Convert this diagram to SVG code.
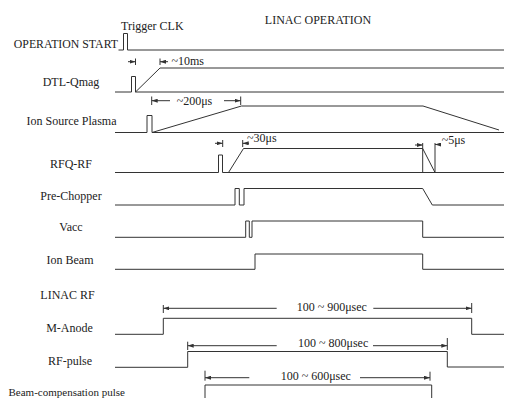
<svg xmlns="http://www.w3.org/2000/svg" width="510" height="398" viewBox="0 0 510 398">
<defs>
<style>
.sig{fill:none;stroke:#333;stroke-width:1}
.dim{fill:none;stroke:#333;stroke-width:1}
.ah{fill:none;stroke:#333;stroke-width:1;marker-end:url(#arr)}
.t{font-family:"Liberation Serif","Times New Roman",serif;font-size:12px;fill:#222}
.c{text-anchor:middle}
</style>
<marker id="arr" viewBox="0 0 6 4" refX="6" refY="2" markerWidth="6" markerHeight="4" markerUnits="userSpaceOnUse" orient="auto">
<path d="M0,0 L6,2 L0,4 Z" fill="#333"/>
</marker>
</defs>
<rect width="510" height="398" fill="#fff"/>
<text class="t c" x="318" y="24">LINAC OPERATION</text>

<g id="operation-start">
<text class="t" x="118" y="47.5" text-anchor="end" style="font-size:11.8px">OPERATION START</text>
<text class="t" x="121" y="30">Trigger CLK</text>
<path class="sig" d="M118.5,50 H123.5 V33.5 H127.5 V50 H504"/>
</g>

<g id="dtl-qmag">
<text class="t c" x="71" y="85.5">DTL-Qmag</text>
<path class="sig" d="M115,92 H131.5 V76.5 H135.5 V92 H504"/>
<path class="sig" d="M135.5,92 L160,68 H504"/>
</g>

<g id="ion-source-plasma">
<text class="t c" x="71.5" y="124.5">Ion Source Plasma</text>
<path class="sig" d="M115,132.5 H147 V115.5 H152 V132.5 H504"/>
<path class="sig" d="M152,132.5 L241.5,106 H423 L499,130"/>
</g>

<g id="rfq-rf">
<text class="t c" x="71" y="168">RFQ-RF</text>
<path class="sig" d="M115,172.5 H218.5 V155 H222.5 V172.5 H504"/>
<path class="sig" d="M228.5,172.5 L243.5,148.5 H422.7"/>
<path class="sig" d="M422.7,143 V172.5 M422.7,148.5 L435,172.5 M435,143 V172.5"/>
</g>

<g id="pre-chopper">
<text class="t c" x="71" y="199.5">Pre-Chopper</text>
<path class="sig" d="M115,205 H235 V188.5 H239.3 V205 H244 V188.5 H422.7 L432.3,205 H504"/>
</g>

<g id="vacc">
<text class="t c" x="71" y="230.7">Vacc</text>
<path class="sig" d="M115,237.3 H245.7 V221 H249.3 V237.3 H252 V221 H422.7 V237.3 H504"/>
</g>

<g id="ion-beam">
<text class="t c" x="70" y="264">Ion Beam</text>
<path class="sig" d="M115,269.3 H255 V254 H422.7 V269.3 H504"/>
</g>

<g id="linac-rf">
<text class="t c" x="67.5" y="299">LINAC RF</text>
</g>

<g id="m-anode">
<text class="t c" x="69.5" y="332">M-Anode</text>
<path class="sig" d="M115,334.3 H163.3 V318.3 H471.7 V334.3 H504"/>
</g>

<g id="rf-pulse">
<text class="t c" x="70" y="365">RF-pulse</text>
<path class="sig" d="M115,367.3 H187.7 V351.5 H447.3 V367 H504"/>
</g>

<g id="beam-compensation-pulse">
<text class="t c" x="66.7" y="396" style="font-size:11px">Beam-compensation pulse</text>
<path class="sig" d="M205,400 V385 H431.7 V400"/>
</g>

<g id="connectors">
<path class="ah" d="M128,61.7 H135.5"/>
<path class="dim" d="M135.5,58.5 V65"/>
<path class="dim" d="M160,58.5 V65"/>
<path class="ah" d="M168,61.7 H160"/>
<text class="t" x="171.5" y="64.5">~10ms</text>
<path class="dim" d="M151.7,96.5 V105 M240.7,96.5 V105"/>
<path class="ah" d="M170,100.7 H151.7"/>
<path class="ah" d="M224,100.7 H240.7"/>
<text class="t" x="176.7" y="104.5">~200μs</text>
<path class="ah" d="M215,143.3 H222.7"/>
<path class="dim" d="M222.7,140 V147 M242.7,140 V147"/>
<path class="ah" d="M249,143.3 H242.7"/>
<text class="t" x="247" y="142">~30μs</text>
<path class="ah" d="M415,145 H422.7"/>
<path class="ah" d="M441,144.5 H435"/>
<text class="t" x="441.7" y="144">~5μs</text>
<path class="dim" d="M163.3,305 V313 M471.7,303 V313"/>
<path class="ah" d="M276.7,308.3 H163.3"/>
<path class="ah" d="M373.3,308.3 H471.7"/>
<text class="t" x="296.7" y="310.5">100 ~ 900μsec</text>
<path class="dim" d="M187.7,341.7 V350 M447.3,338 V350"/>
<path class="ah" d="M276.7,345.7 H187.7"/>
<path class="ah" d="M373,345.7 H447.3"/>
<text class="t" x="298" y="346.5">100 ~ 800μsec</text>
<path class="dim" d="M205,370.7 V380.7 M430,371.7 V380.7"/>
<path class="ah" d="M249.3,377.7 H205"/>
<path class="ah" d="M360,377.7 H430"/>
<text class="t" x="280.7" y="380">100 ~ 600μsec</text>
</g>
</svg>
